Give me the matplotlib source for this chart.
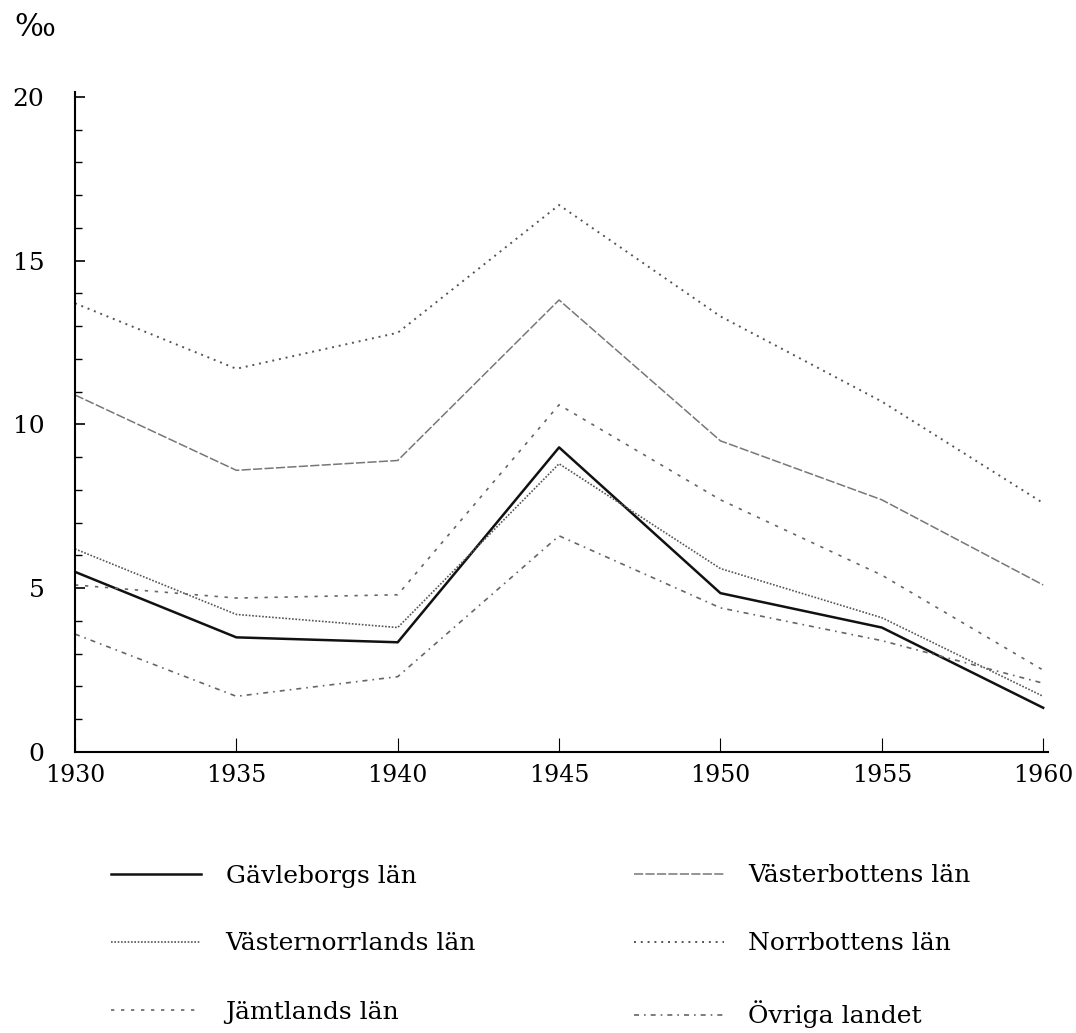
import numpy as np
import matplotlib
matplotlib.use('Agg')
import matplotlib.pyplot as plt
from matplotlib.ticker import MultipleLocator

plt.rcParams['font.family'] = ['DejaVu Serif', 'DejaVu Sans']

years = [1930, 1935, 1940, 1945, 1950, 1955, 1960]

gavleborg = [5.5, 3.5, 3.35, 9.3, 4.85, 3.8, 1.35]
vasternorrland = [6.2, 4.2, 3.8, 8.8, 5.6, 4.1, 1.7]
jamtland = [5.1, 4.7, 4.8, 10.6, 7.7, 5.4, 2.5]
vasterbotten = [10.9, 8.6, 8.9, 13.8, 9.5, 7.7, 5.1]
norrbotten = [13.7, 11.7, 12.8, 16.7, 13.3, 10.7, 7.6]
ovriga = [3.6, 1.7, 2.3, 6.6, 4.4, 3.4, 2.1]

labels = ['Gävleborgs län', 'Västernorrlands län', 'Jämtlands län',
          'Västerbottens län', 'Norrbottens län', 'Övriga landet']
series = [gavleborg, vasternorrland, jamtland, vasterbotten, norrbotten, ovriga]
styles = [
    dict(color='#111111', lw=1.8, ls='-'),
    dict(color='#555555', lw=1.2, ls=(0, (1, 1))),
    dict(color='#666666', lw=1.2, ls=(0, (2, 4))),
    dict(color='#777777', lw=1.1, ls=(0, (6, 1.5))),
    dict(color='#555555', lw=1.4, ls=(0, (1, 2.5))),
    dict(color='#666666', lw=1.2, ls=(0, (3, 3, 1, 3))),
]

fig = plt.figure(figsize=(10.76, 10.33), dpi=100)
ax = fig.add_axes([75 / 1076, 1 - 752 / 1033, 973 / 1076, 660 / 1033])

for vals, lab, st in zip(series, labels, styles):
    ax.plot(years, vals, label=lab, **st)

ax.set_xlim(1930, 1960.15)
ax.set_ylim(0, 20.15)
ax.spines['top'].set_visible(False)
ax.spines['right'].set_visible(False)
ax.spines['left'].set_linewidth(1.5)
ax.spines['bottom'].set_linewidth(1.5)

ax.set_xticks(years)
ax.set_yticks([0, 5, 10, 15, 20])
ax.yaxis.set_minor_locator(MultipleLocator(1))
ax.tick_params(axis='y', which='major', direction='in', length=7, width=1.2,
               pad=22, labelsize=18)
ax.tick_params(axis='y', which='minor', direction='in', length=5, width=1.0)
ax.tick_params(axis='x', which='major', direction='in', length=10, width=0.8,
               pad=9, labelsize=17)

fig.text(14 / 1076, 1 - 28 / 1033, '‰', fontsize=22, va='center', ha='left')

fig.legend(loc='upper left', bbox_to_anchor=(88 / 1076, 1 - 842 / 1033),
           ncol=2, frameon=False, fontsize=18, handlelength=3.6,
           handletextpad=1.0, columnspacing=6.3, labelspacing=1.8)

fig.savefig('out.png', dpi=100)
